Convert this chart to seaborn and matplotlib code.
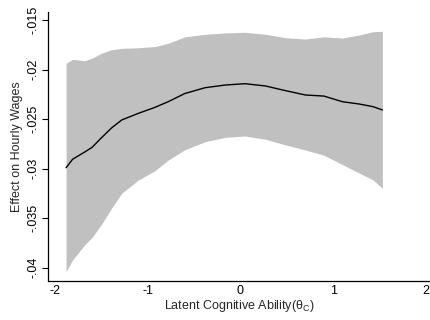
import numpy as np
import pandas as pd
import seaborn as sns
import matplotlib
matplotlib.use("Agg")
import matplotlib.pyplot as plt

# values
theta = [-1.88, -1.81, -1.68, -1.6, -1.5, -1.39, -1.28, -1.1, -0.92, -0.78, -0.6,
         -0.38, -0.16, 0.05, 0.27, 0.49, 0.7, 0.9, 1.1, 1.28, 1.43, 1.53]
effect = [-0.02991, -0.02906, -0.02833, -0.02786, -0.02690, -0.02590, -0.02509,
          -0.02442, -0.02381, -0.02325, -0.02242, -0.02183, -0.02156, -0.02143,
          -0.02166, -0.02214, -0.02257, -0.02268, -0.02325, -0.02348, -0.02375,
          -0.02408]
upper = [-0.01937, -0.01897, -0.01911, -0.01885, -0.01836, -0.01800, -0.01786,
         -0.01780, -0.01768, -0.01735, -0.01670, -0.01644, -0.01630, -0.01624,
         -0.01644, -0.01679, -0.01692, -0.01670, -0.01682, -0.01651, -0.01618,
         -0.01614]
lower = [-0.04040, -0.03922, -0.03770, -0.03695, -0.03565, -0.03400, -0.03249,
         -0.03115, -0.03020, -0.02915, -0.02810, -0.02728, -0.02684, -0.02671,
         -0.02704, -0.02762, -0.02812, -0.02865, -0.02960, -0.03045, -0.03115,
         -0.03199]

xticks = [-2, -1, 0, 1, 2]
yticks = [-0.04, -0.035, -0.03, -0.025, -0.02, -0.015]
ylabels = ['-.04', '-.035', '-.03', '-.025', '-.02', '-.015']

df = pd.DataFrame({'theta': theta, 'effect': effect, 'upper': upper, 'lower': lower})

sns.set_style('ticks')
plt.rcParams['font.family'] = ['Liberation Sans', 'DejaVu Sans']
plt.rcParams['mathtext.fontset'] = 'custom'
plt.rcParams['mathtext.rm'] = 'Liberation Sans'

fig = plt.figure(figsize=(4.31, 3.2), dpi=100)
ax = fig.add_axes([48 / 431, 1 - 280.5 / 320, 1 - 48 / 431, (280.5 - 12) / 320])

ax.fill_between(df['theta'], df['lower'], df['upper'], color='#c0c0c0', linewidth=0)
sns.lineplot(data=df, x='theta', y='effect', color='black', linewidth=1.0, ax=ax)

ax.set_xlim(-2.075, 2.054)
ax.set_ylim(-0.0413, -0.01419)
ax.set_xticks(xticks)
ax.set_xticklabels([str(t) for t in xticks], fontsize=9)
ax.set_yticks(yticks)
ax.set_yticklabels(ylabels, fontsize=9, rotation=90, va='center')
ax.tick_params(axis='y', direction='out', length=4, width=0.8, colors='black', pad=2)
ax.tick_params(axis='x', length=0, colors='black', pad=3)

ax.set_xlabel(r'Latent Cognitive Ability(θ$_\mathregular{C}$)', fontsize=9, labelpad=1)
ax.set_ylabel('Effect on Hourly Wages', fontsize=9, labelpad=3)

for s in ['top', 'right']:
    ax.spines[s].set_visible(False)
for s in ['left', 'bottom']:
    ax.spines[s].set_color('black')
    ax.spines[s].set_linewidth(0.9)

fig.savefig('out.png', dpi=100)
